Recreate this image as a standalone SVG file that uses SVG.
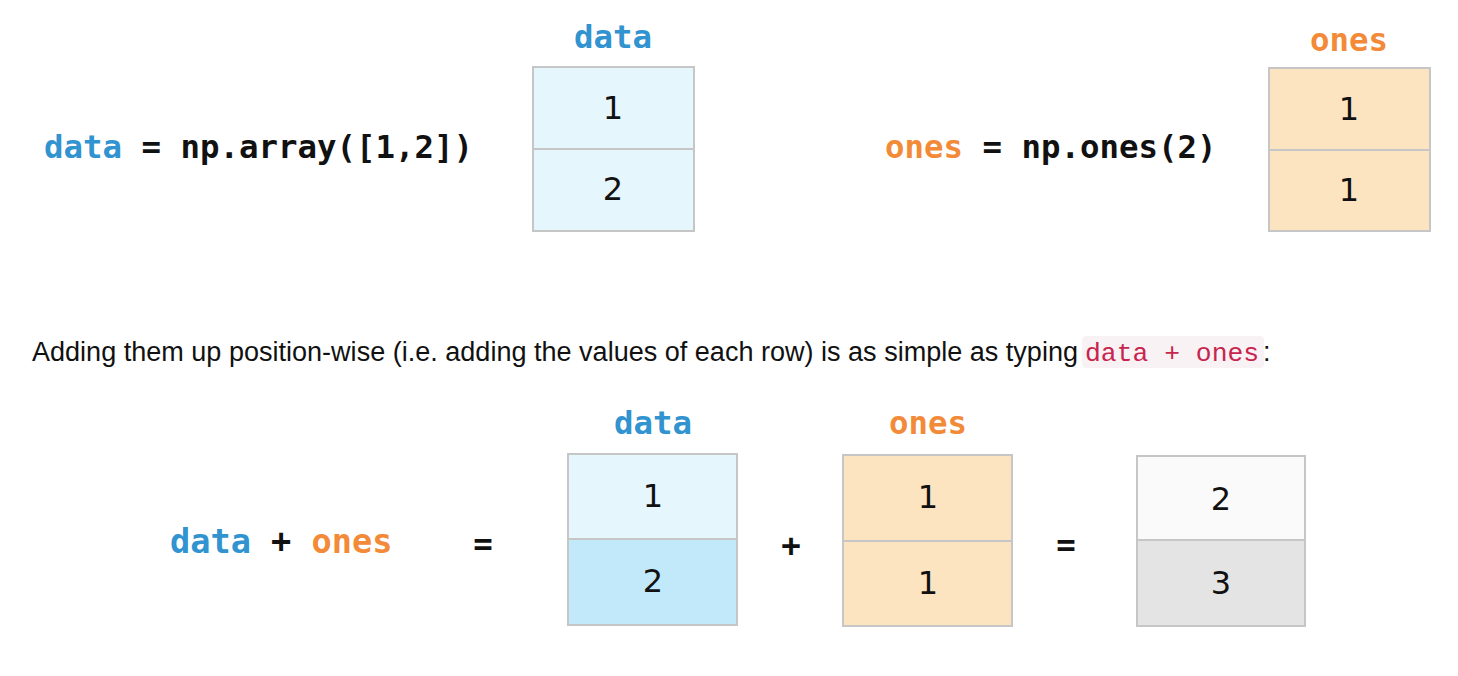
<svg xmlns="http://www.w3.org/2000/svg" width="1458" height="676" viewBox="0 0 1458 676">
<style>
.code{font-family:"DejaVu Sans Mono",monospace;font-weight:bold;font-size:32.4px;fill:#111}
.big{font-size:33.6px}
.blue{fill:#3193cf}
.orange{fill:#f28a38}
.num{font-family:"DejaVu Sans",sans-serif;font-size:32px;fill:#111;text-anchor:middle}
.cell{stroke:#c6c6c6;stroke-width:2}
.lb{fill:#e6f6fd}.db{fill:#c2e9fa}.or{fill:#fde4c1}.wh{fill:#fafafa}.gr{fill:#e4e4e4}
.body{font-family:"Liberation Sans",Arial,sans-serif;font-size:27px;fill:#111}
.inl{font-family:"Liberation Mono","Courier New",monospace;font-size:26.4px;fill:#c7254e}
</style>
<rect width="1458" height="676" fill="#fff"/>
<g id="data-expr"><text class="code" x="44" y="158"><tspan class="blue">data</tspan> = np.array([1,2])</text></g>
<g id="data-top">
<text class="code blue" x="613" y="48" text-anchor="middle">data</text>
<rect class="cell lb" x="533" y="67" width="161" height="82"/>
<rect class="cell lb" x="533" y="149" width="161" height="82"/>
<text class="num" x="613" y="119">1</text>
<text class="num" x="613" y="200">2</text>
</g>
<g id="ones-expr"><text class="code" x="885" y="158"><tspan class="orange">ones</tspan> = np.ones(2)</text></g>
<g id="ones-top">
<text class="code orange" x="1349" y="51" text-anchor="middle">ones</text>
<rect class="cell or" x="1269" y="68" width="161" height="82"/>
<rect class="cell or" x="1269" y="150" width="161" height="81"/>
<text class="num" x="1349" y="120">1</text>
<text class="num" x="1349" y="201">1</text>
</g>
<g id="caption">
<rect x="1082" y="336" width="182" height="32" rx="4" fill="#f9f2f4"/>
<text class="body" x="32" y="361" textLength="1046" lengthAdjust="spacingAndGlyphs">Adding them up position-wise (i.e. adding the values of each row) is as simple as typing</text>
<text class="inl" x="1085" y="361">data + ones</text>
<text class="body" x="1263" y="361">:</text>
</g>
<g id="sum-expr">
<text class="code big" x="170" y="553"><tspan class="blue">data</tspan> + <tspan class="orange">ones</tspan></text>
<text class="code" x="483" y="555" text-anchor="middle">=</text>
</g>
<g id="data-bottom">
<text class="code blue" x="653" y="434" text-anchor="middle">data</text>
<rect class="cell lb" x="568" y="454" width="169" height="85"/>
<rect class="cell db" x="568" y="539" width="169" height="86"/>
<text class="num" x="653" y="507">1</text>
<text class="num" x="653" y="592">2</text>
</g>
<g id="plus"><text class="code" x="791" y="556" text-anchor="middle">+</text></g>
<g id="ones-bottom">
<text class="code orange" x="928" y="434" text-anchor="middle">ones</text>
<rect class="cell or" x="843" y="455" width="169" height="86"/>
<rect class="cell or" x="843" y="541" width="169" height="85"/>
<text class="num" x="928" y="508">1</text>
<text class="num" x="928" y="594">1</text>
</g>
<g id="equals2"><text class="code" x="1066" y="556" text-anchor="middle">=</text></g>
<g id="result">
<rect class="cell wh" x="1137" y="456" width="168" height="84"/>
<rect class="cell gr" x="1137" y="540" width="168" height="86"/>
<text class="num" x="1221" y="510">2</text>
<text class="num" x="1221" y="594">3</text>
</g>
</svg>
